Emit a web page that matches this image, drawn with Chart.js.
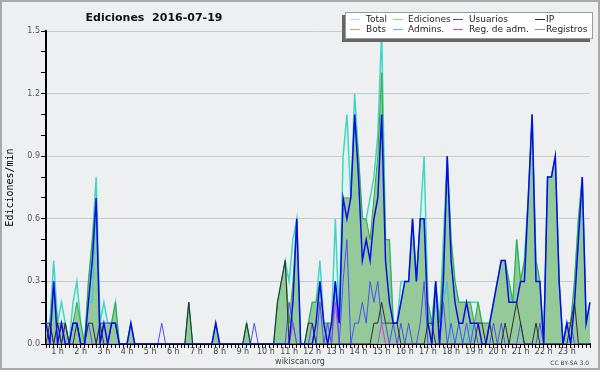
<!DOCTYPE html>
<html>
<head>
<meta charset="utf-8">
<script src="https://cdn.jsdelivr.net/npm/chart.js@4/dist/chart.umd.min.js"></script>
<style>
  html, body { margin: 0; padding: 0; background: #eeeff1; }
  #wrap { width: 600px; height: 370px; }
</style>
</head>
<body>
<div id="wrap"><canvas id="chart" width="600" height="370"></canvas></div>
<script>
// 10 minute steps, 00:30 -> 24:00 (one row = one hour)
var times = [];
for (var m = 30; m <= 1440; m += 10) {
  times.push(String(Math.floor(m / 60)).padStart(2, '0') + ':' + String(m % 60).padStart(2, '0'));
}

var total = [
  0.1,0.1,0.4,0.1,0.2,0.1,
  0,0.2,0.3,0.1,0,0.3,
  0.5,0.8,0.1,0.2,0.1,0.1,
  0.2,0,0,0,0.1,0,
  0,0,0,0,0,0,
  0,0,0,0,0,0,
  0,0.2,0,0,0,0,
  0,0,0.1,0,0,0,
  0,0,0,0,0.1,0,
  0,0,0,0,0,0,
  0.2,0.3,0.4,0.3,0.5,0.6,
  0,0,0.1,0.2,0.2,0.4,
  0.1,0.1,0.1,0.6,0.1,0.9,
  1.1,0.7,1.2,0.9,0.6,0.6,
  0.7,0.8,1.0,1.5,0.5,0.5,
  0.1,0.1,0.3,0.3,0.3,0.6,
  0.3,0.6,0.9,0.2,0.1,0.3,
  0.1,0.5,0.9,0.5,0.3,0.2,
  0.2,0.2,0.2,0.2,0.2,0.1,
  0.1,0.1,0.2,0.3,0.4,0.4,
  0.3,0.2,0.5,0.3,0.4,0.7,
  1.1,0.4,0.3,0,0.8,0.8,
  0.9,0.3,0,0.1,0.1,0.3,
  0.6,0.8,0.1,0.2
];
var ediciones = [
  0.1,0.1,0.3,0.1,0.1,0.1,
  0,0.1,0.2,0.1,0,0.3,
  0.5,0.7,0.1,0.1,0.1,0.1,
  0.2,0,0,0,0.1,0,
  0,0,0,0,0,0,
  0,0,0,0,0,0,
  0,0.2,0,0,0,0,
  0,0,0.1,0,0,0,
  0,0,0,0,0.1,0,
  0,0,0,0,0,0,
  0.2,0.3,0.4,0.1,0.3,0.6,
  0,0,0.1,0.2,0.2,0.3,
  0.1,0.1,0.1,0.3,0.1,0.7,
  0.7,0.7,1.1,0.9,0.6,0.6,
  0.5,0.7,0.9,1.3,0.5,0.5,
  0.1,0.1,0.2,0.3,0.3,0.6,
  0.3,0.6,0.6,0.2,0.1,0.3,
  0.1,0.4,0.9,0.5,0.3,0.2,
  0.2,0.2,0.2,0.1,0.2,0.1,
  0.1,0.1,0.2,0.3,0.4,0.4,
  0.3,0.2,0.5,0.3,0.4,0.7,
  1.1,0.4,0.3,0,0.8,0.8,
  0.9,0.3,0,0.1,0.1,0.3,
  0.6,0.8,0.1,0.2
];
var usuarios = [
  0.1,0,0.3,0,0.1,0,
  0,0.1,0.1,0,0,0.2,
  0.4,0.7,0,0.1,0,0.1,
  0.1,0,0,0,0.1,0,
  0,0,0,0,0,0,
  0,0,0,0,0,0,
  0,0,0,0,0,0,
  0,0,0.1,0,0,0,
  0,0,0,0,0,0,
  0,0,0,0,0,0,
  0,0,0,0,0.2,0.6,
  0,0,0,0,0.1,0.3,
  0.1,0,0.1,0.3,0.1,0.7,
  0.6,0.7,1.1,0.8,0.4,0.5,
  0.4,0.6,0.7,1.1,0.4,0.2,
  0.1,0.1,0.2,0.3,0.3,0.6,
  0.3,0.6,0.6,0.1,0,0.3,
  0,0.3,0.9,0.4,0.2,0.1,
  0.1,0.2,0.1,0.1,0.1,0,
  0,0.1,0.2,0.3,0.4,0.4,
  0.2,0.2,0.2,0.3,0.3,0.7,
  1.1,0.3,0.3,0,0.8,0.8,
  0.9,0.3,0,0.1,0,0.2,
  0.5,0.8,0.1,0.2
];
var ip = [
  0,0.1,0,0.1,0,0.1,
  0,0,0.1,0,0,0.1,
  0.1,0,0.1,0,0,0.1,
  0.1,0,0,0,0,0,
  0,0,0,0,0,0,
  0,0,0,0,0,0,
  0,0.2,0,0,0,0,
  0,0,0,0,0,0,
  0,0,0,0,0.1,0,
  0,0,0,0,0,0,
  0.2,0.3,0.4,0,0,0,
  0,0,0.1,0.1,0,0,
  0,0,0,0,0,0,
  0,0,0,0,0,0,
  0,0.1,0.1,0.2,0.1,0.1,
  0.1,0.1,0,0,0,0,
  0,0,0,0.1,0.1,0,
  0,0,0,0,0,0,
  0,0,0,0,0.1,0.1,
  0,0.1,0,0,0,0.1,
  0,0.1,0.2,0.1,0,0,
  0,0.1,0,0,0,0,
  0,0,0,0,0.1,0.2,
  0,0,0,0
];
var bots = [
  0,0,0,0,0,0, 0,0,0,0,0,0, 0,0,0,0,0,0, 0,0,0,0,0,0,
  0,0,0,0,0,0, 0,0,0,0,0,0, 0,0,0,0,0,0, 0,0,0,0,0,0,
  0,0,0,0,0,0, 0,0,0,0,0,0, 0,0,0,0,0,0, 0,0,0,0,0,0,
  0,0,0,0,0,0, 0,0,0,0,0,0, 0,0,0,0,0,0, 0,0,0,0,0,0,
  0,0,0,0,0,0, 0,0,0,0,0,0, 0,0,0,0,0,0, 0,0,0,0,0,0,
  0,0,0,0,0,0, 0,0,0,0,0,0, 0,0,0,0,0,0, 0,0,0,0
];
var admins = [
  0,0,0,0,0,0,
  0,0,0,0,0,0.2,
  0.2,0.7,0,0,0,0,
  0,0,0,0,0,0,
  0,0,0,0,0,0,
  0,0,0,0,0,0,
  0,0,0,0,0,0,
  0,0,0,0,0,0,
  0,0,0,0,0,0,
  0,0,0,0,0,0,
  0,0,0,0,0.1,0,
  0,0,0,0,0,0,
  0,0,0,0,0,0,
  0,0,0,0,0,0,
  0,0,0,0,0,0,
  0,0,0,0,0,0,
  0,0,0,0,0,0,
  0,0.2,0.3,0,0,0.1,
  0,0,0.1,0,0,0,
  0,0,0,0,0,0,
  0,0,0,0,0,0,
  0,0,0,0,0,0,
  0,0,0,0,0,0,
  0,0,0,0
];
var regAdm = [
  0,0,0,0,0,0, 0,0,0,0,0,0, 0,0,0,0,0,0, 0,0,0,0,0,0,
  0,0,0,0,0,0, 0,0,0,0,0,0, 0,0,0,0,0,0, 0,0,0,0,0,0,
  0,0,0,0,0,0, 0,0,0,0,0,0,
  0,0,0,0,0.1,0,
  0,0,0,0,0,0,
  0,0,0,0.2,0,0,
  0,0,0,0,0,0,
  0,0,0,0.1,0,0,
  0,0,0,0,0,0, 0,0,0,0,0,0, 0,0,0,0,0,0, 0,0,0,0,0,0,
  0,0,0,0,0,0, 0,0,0,0,0,0, 0,0,0,0,0,0, 0,0,0,0
];
var registros = [
  0.1,0.1,0,0.1,0,0.1,
  0,0.1,0.1,0,0,0.1,
  0,0,0.1,0.1,0.1,0.1,
  0.1,0,0,0,0,0,
  0,0,0,0,0,0,
  0.1,0,0,0,0,0,
  0,0,0,0,0,0,
  0,0,0,0,0,0,
  0,0,0,0,0,0,
  0.1,0,0,0,0,0,
  0,0,0,0.2,0.1,0,
  0,0,0,0.1,0,0.2,
  0,0.1,0,0.3,0,0.3,
  0.5,0,0.1,0.1,0.2,0.1,
  0.3,0.2,0.3,0.1,0.1,0,
  0.1,0,0.1,0,0.1,0,
  0,0.1,0.3,0,0,0.3,
  0,0.2,0,0.1,0,0.1,
  0,0.1,0,0.1,0,0,
  0,0,0.1,0,0.1,0,
  0,0,0,0.1,0,0,
  0,0,0.1,0,0,0,
  0,0,0,0.1,0.1,0,
  0,0,0,0
];

var bg = '#eeeff1';

function isMajor(v){ return Math.round(v * 10) % 3 === 0; }

var decor = {
  id: 'decor',
  beforeDraw: function(c){
    var ctx = c.ctx;
    ctx.save();
    ctx.fillStyle = bg;
    ctx.fillRect(0, 0, c.width, c.height);
    ctx.strokeStyle = '#a9a9ab';
    ctx.lineWidth = 2;
    ctx.strokeRect(1, 1, c.width - 2, c.height - 2);
    ctx.restore();
  },
  afterDraw: function(c){
    var ctx = c.ctx;
    ctx.save();
    // title
    ctx.fillStyle = '#111';
    ctx.font = 'bold 11px "DejaVu Sans"';
    ctx.textAlign = 'center';
    ctx.textBaseline = 'alphabetic';
    ctx.fillText('Ediciones  2016-07-19', 154, 21);
    // footer
    ctx.fillStyle = '#444';
    ctx.font = '8px "DejaVu Sans"';
    ctx.fillText('wikiscan.org', 300, 364);
    ctx.textAlign = 'right';
    ctx.font = '6px "DejaVu Sans"';
    ctx.fillText('CC BY-SA 3.0', 589, 365);
    // legend box with shadow
    ctx.fillStyle = '#666';
    ctx.fillRect(342, 15, 248, 27);
    ctx.fillStyle = '#fff';
    ctx.fillRect(345, 12, 248, 27);
    ctx.strokeStyle = '#9a9a9a';
    ctx.lineWidth = 1;
    ctx.strokeRect(345.5, 12.5, 247, 26);
    var cols = [[350, 366], [393, 408], [453, 469], [535, 546]];
    var rows = [19, 29];
    ctx.font = '9px "DejaVu Sans"';
    ctx.textAlign = 'left';
    ctx.textBaseline = 'middle';
    c.data.datasets.forEach(function(ds, k){
      var col = cols[k % 4], y = rows[Math.floor(k / 4)];
      ctx.strokeStyle = ds.swatch || ds.borderColor;
      ctx.beginPath();
      ctx.moveTo(col[0], y + 0.5);
      ctx.lineTo(col[0] + 10, y + 0.5);
      ctx.stroke();
      ctx.fillStyle = '#222';
      ctx.fillText(ds.label, col[1], y + 0.5);
    });
    ctx.restore();
  }
};

new Chart(document.getElementById('chart'), {
  type: 'line',
  data: {
    labels: times,
    datasets: [
      { label: 'Total', data: total, borderColor: '#3fd6c6', backgroundColor: '#def3ed', fill: 'origin', borderWidth: 1.5, order: 8, swatch: '#aee6dc' },
      { label: 'Ediciones', data: ediciones, borderColor: '#3aa83a', backgroundColor: '#94ca97', fill: 'origin', borderWidth: 1, order: 7, swatch: '#8fd08f' },
      { label: 'Usuarios', data: usuarios, borderColor: '#0b0bea', borderWidth: 1.5, fill: false, order: 1, swatch: '#4444e6' },
      { label: 'IP', data: ip, borderColor: '#2e2e2e', borderWidth: 1, fill: false, order: 2 },
      { label: 'Bots', data: bots, borderColor: '#f0a040', borderWidth: 1, fill: false, order: 6 },
      { label: 'Admins.', data: admins, borderColor: '#3cc4e4', borderWidth: 1, fill: false, order: 5 },
      { label: 'Reg. de adm.', data: regAdm, borderColor: '#d040e0', borderWidth: 1, fill: false, order: 4 },
      { label: 'Registros', data: registros, borderColor: '#4f4ff4', borderWidth: 1, fill: false, order: 3, swatch: '#8080f0' }
    ]
  },
  options: {
    responsive: false,
    animation: false,
    devicePixelRatio: 1,
    layout: { padding: { top: 31, right: 10, left: 0, bottom: 0 } },
    elements: { point: { radius: 0 }, line: { tension: 0 } },
    plugins: {
      legend: { display: false },
      title: { display: false },
      tooltip: { enabled: false },
      filler: { drawTime: 'beforeDatasetsDraw' }
    },
    scales: {
      x: {
        type: 'category',
        z: 1,
        offset: false,
        grid: { drawOnChartArea: false, drawTicks: true, tickLength: 4, tickColor: '#000', color: '#000' },
        border: { color: '#000', width: 2 },
        ticks: {
          autoSkip: false, maxRotation: 0, minRotation: 0, padding: -1,
          color: '#444', font: { family: 'DejaVu Sans', size: 8 },
          callback: function(v, i){
            var t = times[i];
            var h = parseInt(t, 10);
            return (t.slice(3) === '00' && h > 0 && h < 24) ? h + ' h' : '';
          }
        },
        afterFit: function(s){ s.height = 26; }
      },
      y: {
        min: 0, max: 1.5,
        grid: {
          color: function(ctx){ return (ctx.tick && ctx.tick.value > 0 && isMajor(ctx.tick.value)) ? '#c9cacd' : 'rgba(0,0,0,0)'; },
          tickColor: '#000', tickLength: 5, lineWidth: 1
        },
        border: { color: '#000', width: 2 },
        ticks: {
          stepSize: 0.1, autoSkip: false, padding: 1,
          color: '#555', font: { family: 'DejaVu Sans', size: 8 },
          callback: function(v){ return isMajor(v) ? v.toFixed(1) : ''; }
        },
        title: { display: true, text: 'Ediciones/min', color: '#000', font: { family: 'DejaVu Sans Mono', size: 10 }, padding: { top: 4, bottom: 0 } },
        afterFit: function(s){ s.width = 46; }
      }
    }
  },
  plugins: [decor]
});
</script>
</body>
</html>
